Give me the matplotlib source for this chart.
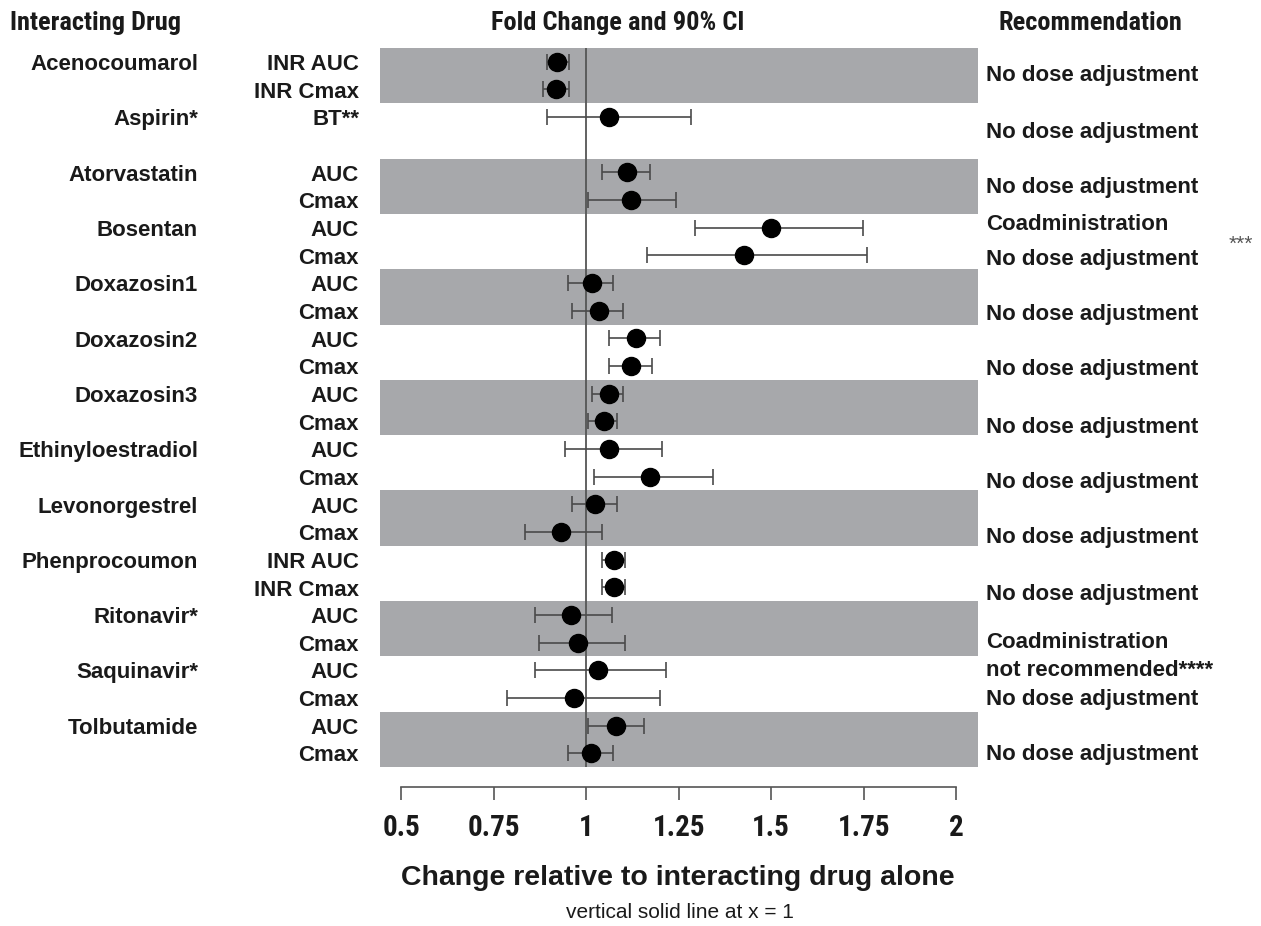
import matplotlib
matplotlib.use("Agg")
import matplotlib.pyplot as plt
from matplotlib.transforms import blended_transform_factory

plt.rcParams["font.family"] = ["Liberation Sans", "DejaVu Sans"]

# drugs, one band each (two row slots per drug)
DRUGS = ["Acenocoumarol", "Aspirin*", "Atorvastatin", "Bosentan", "Doxazosin1",
         "Doxazosin2", "Doxazosin3", "Ethinyloestradiol", "Levonorgestrel",
         "Phenprocoumon", "Ritonavir*", "Saquinavir*", "Tolbutamide"]

MEASURES = [["INR AUC", "INR Cmax"], ["BT**"], ["AUC", "Cmax"], ["AUC", "Cmax"],
            ["AUC", "Cmax"], ["AUC", "Cmax"], ["AUC", "Cmax"], ["AUC", "Cmax"],
            ["AUC", "Cmax"], ["INR AUC", "INR Cmax"], ["AUC", "Cmax"],
            ["AUC", "Cmax"], ["AUC", "Cmax"]]

FOLD = [[0.922, 0.919], [1.062], [1.111, 1.122], [1.500, 1.426], [1.015, 1.034],
        [1.136, 1.122], [1.061, 1.048], [1.063, 1.173], [1.023, 0.931],
        [1.076, 1.076], [0.958, 0.978], [1.031, 0.966], [1.082, 1.013]]

CI_LOW = [[0.895, 0.883], [0.895], [1.044, 1.004], [1.293, 1.165], [0.950, 0.961],
          [1.061, 1.061], [1.016, 1.005], [0.944, 1.022], [0.961, 0.834],
          [1.044, 1.044], [0.861, 0.872], [0.861, 0.786], [1.005, 0.950]]

CI_HIGH = [[0.953, 0.955], [1.283], [1.172, 1.243], [1.748, 1.758], [1.072, 1.099],
           [1.199, 1.177], [1.099, 1.084], [1.205, 1.344], [1.084, 1.044],
           [1.106, 1.106], [1.071, 1.105], [1.216, 1.199], [1.156, 1.072]]

REC_TEXT = ["No dose adjustment", "No dose adjustment", "No dose adjustment",
            "Coadministration", "No dose adjustment", "No dose adjustment",
            "No dose adjustment", "No dose adjustment", "No dose adjustment",
            "No dose adjustment", "No dose adjustment", "Coadministration",
            "not recommended****", "No dose adjustment", "No dose adjustment"]
REC_ROW = [0.40, 2.46, 4.45, 5.79, 7.05, 9.04, 11.03, 13.13, 15.12, 17.11,
           19.17, 20.91, 21.92, 22.97, 24.96]

XTICKS = [0.5, 0.75, 1, 1.25, 1.5, 1.75, 2]
XTICK_LABELS = ["0.5", "0.75", "1", "1.25", "1.5", "1.75", "2"]

BAND = "#a7a8ab"
INK = "#1a1a1a"
NARROW = ["Roboto Condensed", "Liberation Sans", "DejaVu Sans"]
DY = 0.1  # nudge text down a little so it sits on the rows

W, H = 1261, 926
fig = plt.figure(figsize=(W / 100, H / 100), dpi=100)
ax = fig.add_axes([380 / W, 1 - 767 / H, (978 - 380) / W, (767 - 48) / H])

n_slots = 2 * len(DRUGS)
ax.set_xlim(0.443, 2.059)
ax.set_ylim(n_slots - 0.5, -0.5)

# alternating grey bands
for k in range(0, len(DRUGS), 2):
    ax.axhspan(2 * k - 0.5, 2 * k + 1.5, color=BAND, lw=0, zorder=0)

ax.axvline(1, color="#555555", lw=1.3, zorder=1)

ys, xs, lo, hi = [], [], [], []
for k in range(len(DRUGS)):
    for j in range(len(FOLD[k])):
        ys.append(2 * k + j)
        xs.append(FOLD[k][j])
        lo.append(FOLD[k][j] - CI_LOW[k][j])
        hi.append(CI_HIGH[k][j] - FOLD[k][j])

ax.errorbar(xs, ys, xerr=[lo, hi], fmt="o", color="black", ms=13,
            ecolor="#4a4a4a", elinewidth=1.2, capsize=6, capthick=1.2, zorder=3)

for s in ["left", "top", "right"]:
    ax.spines[s].set_visible(False)
ax.spines["bottom"].set_position(("outward", 14.4))
ax.spines["bottom"].set_bounds(0.5, 2)
ax.spines["bottom"].set_color("#555555")
ax.spines["bottom"].set_linewidth(1.2)
ax.set_yticks([])
ax.set_xticks(XTICKS)
ax.set_xticklabels(XTICK_LABELS, fontsize=21, fontweight="bold", family=NARROW, color=INK)
ax.tick_params(axis="x", length=9.5, width=1.2, color="#555555", pad=10)
ax.set_facecolor("white")

trans = blended_transform_factory(fig.transFigure, ax.transData)
for k, name in enumerate(DRUGS):
    fig.text(198 / W, 2 * k + DY, name, transform=trans, ha="right", va="center",
             fontsize=16, fontweight="bold", color=INK)
    for j, m in enumerate(MEASURES[k]):
        fig.text(359 / W, 2 * k + j + DY, m, transform=trans, ha="right", va="center",
                 fontsize=16, fontweight="bold", color=INK)

for txt, r in zip(REC_TEXT, REC_ROW):
    fig.text(986 / W, r + DY, txt, transform=trans, ha="left", va="center",
             fontsize=16, fontweight="bold", color=INK)
fig.text(1229 / W, 6.6, "***", transform=trans, ha="left", va="center",
         fontsize=15, color="#555555")

# column headers
fig.text(10 / W, 1 - 23 / H, "Interacting Drug", ha="left", va="center",
         fontsize=19, fontweight="bold", family=NARROW, color=INK)
fig.text(618 / W, 1 - 23 / H, "Fold Change and 90% CI", ha="center", va="center",
         fontsize=19, fontweight="bold", family=NARROW, color=INK)
fig.text(1090 / W, 1 - 23 / H, "Recommendation", ha="center", va="center",
         fontsize=19, fontweight="bold", family=NARROW, color=INK)

fig.text(678 / W, 1 - 878 / H, "Change relative to interacting drug alone",
         ha="center", va="center", fontsize=20.5, fontweight="bold", color=INK)
fig.text(680 / W, 1 - 912 / H, "vertical solid line at x = 1",
         ha="center", va="center", fontsize=15, color=INK)

fig.savefig("out.png", dpi=100)
